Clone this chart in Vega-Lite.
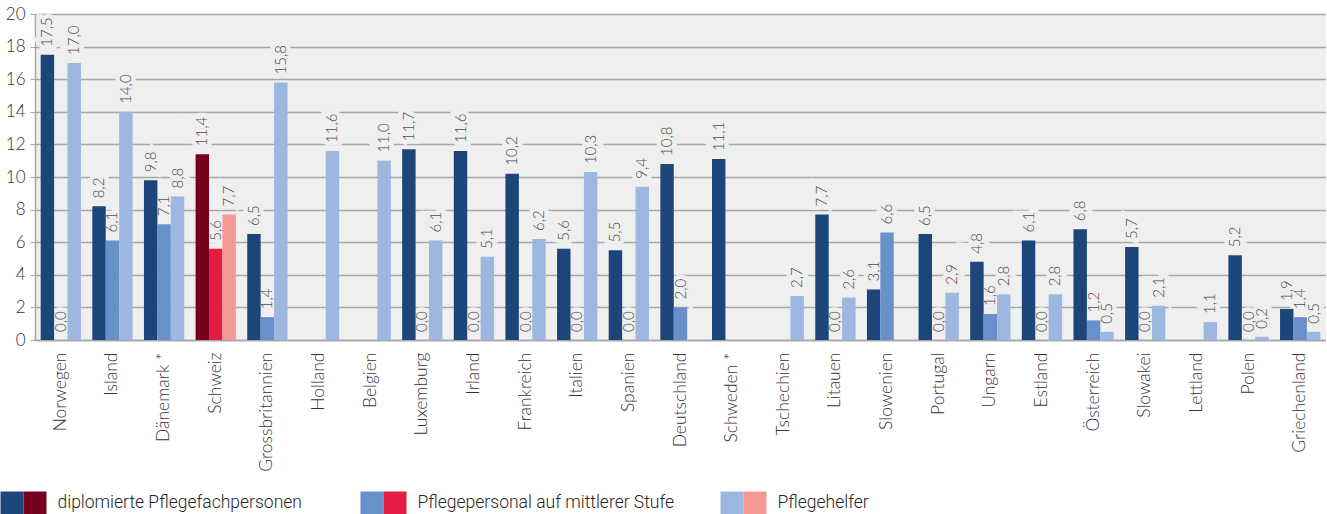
{
  "$schema": "https://vega.github.io/schema/vega-lite/v6.json",
  "padding": {"top": 5, "left": 0, "right": 0, "bottom": 0},
  "background": "white",
  "config": {
    "locale": {"number": {"decimal": ",", "thousands": ".", "grouping": [3], "currency": ["", " €"]}},
    "font": "Lato",
    "concat": {"spacing": 19}
  },
  "datasets": {
    "main": [
      {"c": "Norwegen", "s": "d", "k": "d", "v": 17.5},
      {"c": "Norwegen", "s": "m", "k": "m", "v": 0.0},
      {"c": "Norwegen", "s": "h", "k": "h", "v": 17.0},
      {"c": "Island", "s": "d", "k": "d", "v": 8.2},
      {"c": "Island", "s": "m", "k": "m", "v": 6.1},
      {"c": "Island", "s": "h", "k": "h", "v": 14.0},
      {"c": "Dänemark *", "s": "d", "k": "d", "v": 9.8},
      {"c": "Dänemark *", "s": "m", "k": "m", "v": 7.1},
      {"c": "Dänemark *", "s": "h", "k": "h", "v": 8.8},
      {"c": "Schweiz", "s": "d", "k": "dCH", "v": 11.4},
      {"c": "Schweiz", "s": "m", "k": "mCH", "v": 5.6},
      {"c": "Schweiz", "s": "h", "k": "hCH", "v": 7.7},
      {"c": "Grossbritannien", "s": "d", "k": "d", "v": 6.5},
      {"c": "Grossbritannien", "s": "m", "k": "m", "v": 1.4},
      {"c": "Grossbritannien", "s": "h", "k": "h", "v": 15.8},
      {"c": "Holland", "s": "h", "k": "h", "v": 11.6},
      {"c": "Belgien", "s": "h", "k": "h", "v": 11.0},
      {"c": "Luxemburg", "s": "d", "k": "d", "v": 11.7},
      {"c": "Luxemburg", "s": "m", "k": "m", "v": 0.0},
      {"c": "Luxemburg", "s": "h", "k": "h", "v": 6.1},
      {"c": "Irland", "s": "d", "k": "d", "v": 11.6},
      {"c": "Irland", "s": "m", "k": "m", "v": 0.0},
      {"c": "Irland", "s": "h", "k": "h", "v": 5.1},
      {"c": "Frankreich", "s": "d", "k": "d", "v": 10.2},
      {"c": "Frankreich", "s": "m", "k": "m", "v": 0.0},
      {"c": "Frankreich", "s": "h", "k": "h", "v": 6.2},
      {"c": "Italien", "s": "d", "k": "d", "v": 5.6},
      {"c": "Italien", "s": "m", "k": "m", "v": 0.0},
      {"c": "Italien", "s": "h", "k": "h", "v": 10.3},
      {"c": "Spanien", "s": "d", "k": "d", "v": 5.5},
      {"c": "Spanien", "s": "m", "k": "m", "v": 0.0},
      {"c": "Spanien", "s": "h", "k": "h", "v": 9.4},
      {"c": "Deutschland", "s": "d", "k": "d", "v": 10.8},
      {"c": "Deutschland", "s": "m", "k": "m", "v": 2.0},
      {"c": "Schweden *", "s": "d", "k": "d", "v": 11.1},
      {"c": "Tschechien", "s": "h", "k": "h", "v": 2.7},
      {"c": "Litauen", "s": "d", "k": "d", "v": 7.7},
      {"c": "Litauen", "s": "m", "k": "m", "v": 0.0},
      {"c": "Litauen", "s": "h", "k": "h", "v": 2.6},
      {"c": "Slowenien", "s": "d", "k": "d", "v": 3.1},
      {"c": "Slowenien", "s": "m", "k": "m", "v": 6.6},
      {"c": "Portugal", "s": "d", "k": "d", "v": 6.5},
      {"c": "Portugal", "s": "m", "k": "m", "v": 0.0},
      {"c": "Portugal", "s": "h", "k": "h", "v": 2.9},
      {"c": "Ungarn", "s": "d", "k": "d", "v": 4.8},
      {"c": "Ungarn", "s": "m", "k": "m", "v": 1.6},
      {"c": "Ungarn", "s": "h", "k": "h", "v": 2.8},
      {"c": "Estland", "s": "d", "k": "d", "v": 6.1},
      {"c": "Estland", "s": "m", "k": "m", "v": 0.0},
      {"c": "Estland", "s": "h", "k": "h", "v": 2.8},
      {"c": "Österreich", "s": "d", "k": "d", "v": 6.8},
      {"c": "Österreich", "s": "m", "k": "m", "v": 1.2},
      {"c": "Österreich", "s": "h", "k": "h", "v": 0.5},
      {"c": "Slowakei", "s": "d", "k": "d", "v": 5.7},
      {"c": "Slowakei", "s": "m", "k": "m", "v": 0.0},
      {"c": "Slowakei", "s": "h", "k": "h", "v": 2.1},
      {"c": "Lettland", "s": "h", "k": "h", "v": 1.1},
      {"c": "Polen", "s": "d", "k": "d", "v": 5.2},
      {"c": "Polen", "s": "m", "k": "m", "v": 0.0},
      {"c": "Polen", "s": "h", "k": "h", "v": 0.2},
      {"c": "Griechenland", "s": "d", "k": "d", "v": 1.9},
      {"c": "Griechenland", "s": "m", "k": "m", "v": 1.4},
      {"c": "Griechenland", "s": "h", "k": "h", "v": 0.5}
    ],
    "legend": [
      {"label": "diplomierte Pflegefachpersonen", "k": "d", "k2": "dCH"},
      {"label": "Pflegepersonal auf mittlerer Stufe", "k": "m", "k2": "mCH"},
      {"label": "Pflegehelfer", "k": "h", "k2": "hCH"}
    ]
  },
  "vconcat": [
    {
      "width": 1291,
      "height": 326,
      "view": {"fill": "#efefef", "stroke": null},
      "data": {"name": "main"},
      "encoding": {
        "x": {
          "field": "c", "type": "nominal", "sort": null,
          "scale": {"paddingInner": 0.22, "paddingOuter": 0.11},
          "axis": {
            "title": null, "labelAngle": -90, "ticks": false,
            "domainColor": "#a6a6a6", "domainWidth": 1.5,
            "labelFontSize": 17.5, "labelFont": "Lato", "labelFontWeight": 300, "labelColor": "#333333",
            "labelPadding": 12
          }
        },
        "xOffset": {"field": "s", "type": "nominal", "scale": {"domain": ["d", "m", "h"]}},
        "y": {
          "field": "v", "type": "quantitative",
          "scale": {"domain": [0, 20], "nice": false},
          "axis": {
            "title": null, "values": [0, 2, 4, 6, 8, 10, 12, 14, 16, 18, 20],
            "labelOverlap": false,
            "grid": true, "gridColor": "#a6a6a6", "gridWidth": 1.5,
            "domainColor": "#a6a6a6", "domainWidth": 1.5,
            "tickColor": "#a6a6a6", "tickSize": 5, "labelPadding": 5,
            "labelFontSize": 17, "labelFont": "Lato", "labelFontWeight": 300, "labelColor": "#333333"
          }
        }
      },
      "layer": [
        {
          "mark": {"type": "text", "angle": 270, "align": "left", "baseline": "middle", "dx": 8, "fontSize": 15, "fontWeight": 300, "font": "Lato", "fill": "#efefef", "stroke": "#efefef", "strokeWidth": 9, "strokeJoin": "miter"},
          "encoding": {
            "text": {"field": "v", "type": "quantitative", "format": ".1f"}
          }
        },
        {
          "mark": {"type": "bar"},
          "encoding": {
            "color": {
              "field": "k", "type": "nominal", "legend": null,
              "scale": {
                "domain": ["d", "m", "h", "dCH", "mCH", "hCH"],
                "range": ["#1c4679", "#6891cb", "#9cb8e0", "#78001f", "#e31c42", "#f29a92"]
              }
            }
          }
        },
        {
          "mark": {"type": "text", "angle": 270, "align": "left", "baseline": "middle", "dx": 8, "fontSize": 15, "fontWeight": 300, "color": "#4d4d4d", "font": "Lato"},
          "encoding": {
            "text": {"field": "v", "type": "quantitative", "format": ".1f"}
          }
        }
      ]
    },
    {
      "width": 720,
      "height": 22,
      "view": {"stroke": null},
      "data": {"name": "legend"},
      "encoding": {
        "x": {"field": "label", "type": "nominal", "sort": null, "axis": null, "scale": {"type": "point", "padding": 0}}
      },
      "layer": [
        {
          "mark": {"type": "point", "shape": "M-3,-1H-1V1H-3Z", "filled": true, "size": 529, "opacity": 1, "strokeWidth": 0},
          "encoding": {
            "color": {"field": "k", "type": "nominal", "legend": null,
              "scale": {"domain": ["d", "m", "h", "dCH", "mCH", "hCH"], "range": ["#1c4679", "#6891cb", "#9cb8e0", "#78001f", "#e31c42", "#f29a92"]}}
          }
        },
        {
          "mark": {"type": "point", "shape": "M-1,-1H1V1H-1Z", "filled": true, "size": 529, "opacity": 1, "strokeWidth": 0},
          "encoding": {
            "color": {"field": "k2", "type": "nominal", "legend": null,
              "scale": {"domain": ["d", "m", "h", "dCH", "mCH", "hCH"], "range": ["#1c4679", "#6891cb", "#9cb8e0", "#78001f", "#e31c42", "#f29a92"]}}
          }
        },
        {
          "mark": {"type": "text", "align": "left", "baseline": "middle", "dx": 22.5, "fontSize": 17.5, "font": "Roboto", "fontWeight": 300, "color": "#262626"},
          "encoding": {"text": {"field": "label"}}
        }
      ]
    }
  ]
}
